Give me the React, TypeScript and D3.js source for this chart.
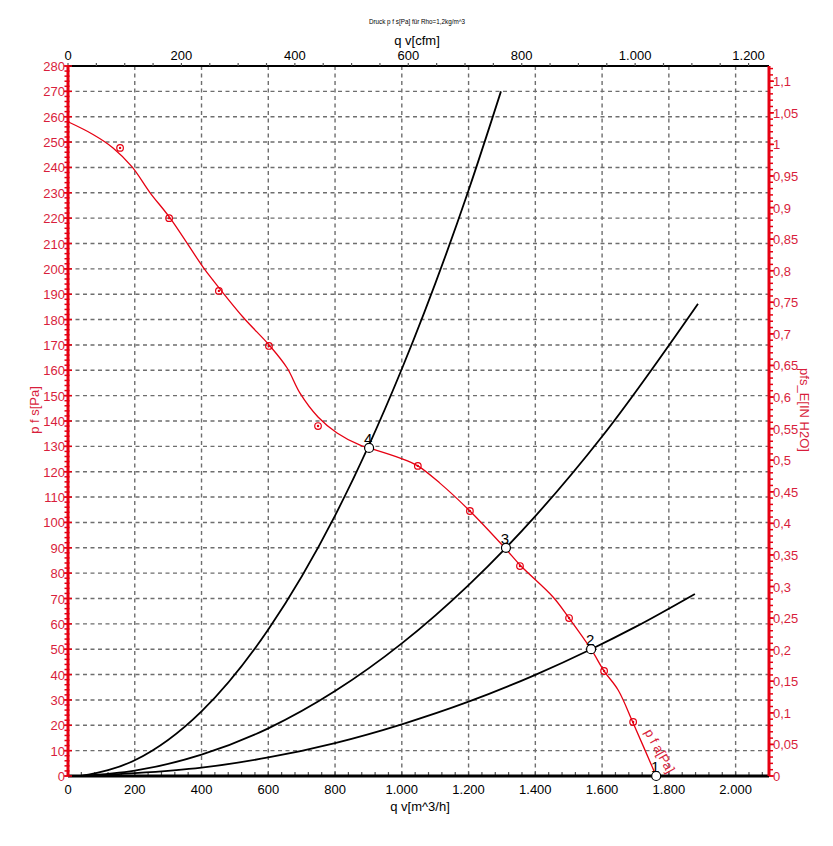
import React from "react";
import * as d3 from "d3";

// Kennlinie p fa [Pa] über qv [m^3/h]
const fanQ = [0, 75, 135, 192, 246, 306, 404, 434, 524, 605, 656, 695, 749, 806, 875, 902, 995, 1048, 1114, 1204, 1309, 1357, 1453, 1501, 1567, 1606, 1648, 1693, 1762];
const fanP = [258, 253, 247.7, 240.2, 230, 220, 200.8, 195.6, 181, 169.6, 161, 151, 141.6, 135.3, 130.5, 129.4, 125.4, 122.3, 115.5, 104.5, 89.9, 82.8, 70.6, 62.3, 50, 41.4, 33.9, 20.9, 0];

// Messpunkte (rote Kreise)
const markQ = [156, 303, 452, 602, 749, 1048, 1204, 1354, 1501, 1606, 1693];
const markP = [247.7, 220, 191.3, 169.6, 138, 122.3, 104.5, 82.8, 62.3, 41.4, 21.3];

// Anlagenkennlinien (schwarz)
const sys4Q = [40, 200, 400, 600, 800, 900, 1000, 1200, 1297];
const sys4P = [0, 6.2, 25.5, 57.8, 102.7, 130, 160.5, 231, 270];
const sys3Q = [40, 200, 400, 600, 800, 1000, 1200, 1312, 1400, 1600, 1887];
const sys3P = [0, 2.1, 8.4, 18.8, 33.5, 52.3, 75.3, 90, 102.5, 133.9, 186.2];
const sys2Q = [40, 200, 400, 600, 800, 1000, 1200, 1400, 1567, 1700, 1878];
const sys2P = [0, 1.1, 3.3, 7.3, 13, 20.4, 29.3, 39.9, 50, 58.8, 71.8];

// Betriebspunkte
const opLabels = ["1", "2", "3", "4"];
const opQ = [1762, 1567, 1312, 902];
const opP = [0, 50, 90, 129.4];

const PA_PER_INH2O = 249.089;
const M3H_TO_CFM = 0.58858;

const W = 833, H = 846;
const left = 68, right = 769, top = 66, bottom = 776;
const red = "#e60012";
const redText = "#d81e3c";
const font = "Liberation Sans, Arial, sans-serif";

const locale = d3.formatLocale({ decimal: ",", thousands: ".", grouping: [3], currency: ["", ""] });
const fmtInt = locale.format(",");
const fmtIn = locale.format(".2~f");

export default function App() {
  const x = d3.scaleLinear().domain([0, 2100]).range([left, right]);
  const y = d3.scaleLinear().domain([0, 280]).range([bottom, top]);
  const xTop = d3.scaleLinear().domain([0, 2100 * M3H_TO_CFM]).range([left, right]);
  const yRight = d3.scaleLinear().domain([0, 280 / PA_PER_INH2O]).range([bottom, top]);

  const line = d3.line<[number, number]>().x(d => x(d[0])).y(d => y(d[1])).curve(d3.curveMonotoneX);
  const smooth = d3.line<[number, number]>().x(d => x(d[0])).y(d => y(d[1])).curve(d3.curveCatmullRom.alpha(0.5));
  const zip = (a: number[], b: number[]) => a.map((v, i) => [v, b[i]] as [number, number]);

  const yGrid = d3.range(10, 280, 10);
  const xGrid = d3.range(200, 2100, 200);
  const yMinor = d3.range(0, 281, 2);
  const rMinor = d3.range(0, 1.125, 0.01);
  const rMajor = d3.range(0, 1.11, 0.05);
  const bMinor = d3.range(0, 2101, 40);
  const bMajor = d3.range(0, 2001, 200);
  const tMinor = d3.range(0, 1236, 50);
  const tMajor = d3.range(0, 1201, 200);

  return (
    <svg width={W} height={H} style={{ position: "absolute", left: 0, top: 0, background: "#fff" }} fontFamily={font}>
      <rect width={W} height={H} fill="#fff" />
      <text x={417} y={24} fontSize={6.3} textAnchor="middle" fill="#000">Druck p f s[Pa] für Rho=1,2kg/m^3</text>
      <text x={417} y={45} fontSize={13} textAnchor="middle" fill="#000">q v[cfm]</text>
      <text x={420} y={811} fontSize={13} textAnchor="middle" fill="#000">q v[m^3/h]</text>
      <text transform={`translate(39,410) rotate(-90)`} fontSize={13} textAnchor="middle" fill={redText}>p f s[Pa]</text>
      <text transform={`translate(800,410) rotate(90)`} fontSize={13} textAnchor="middle" fill={redText}>pfs_E[IN H2O]</text>

      {/* Gitter */}
      <g stroke="#6e6e6e" strokeWidth={1.4} strokeDasharray="4,3.5">
        {yGrid.map(v => <line key={"h" + v} x1={left} x2={right} y1={y(v)} y2={y(v)} />)}
        {xGrid.map(v => <line key={"v" + v} x1={x(v)} x2={x(v)} y1={top} y2={bottom} />)}
      </g>

      {/* obere Achse cfm */}
      <line x1={left} x2={right} y1={top} y2={top} stroke="#000" strokeWidth={2} />
      {tMinor.map(v => <line key={"tm" + v} x1={xTop(v)} x2={xTop(v)} y1={top - 3} y2={top} stroke="#555" strokeWidth={1.2} />)}
      {tMajor.map(v => (
        <text key={"tl" + v} x={xTop(v)} y={top - 6} fontSize={13} textAnchor="middle" fill="#000">{fmtInt(v)}</text>
      ))}

      {/* untere Achse m^3/h */}
      {bMinor.map(v => <line key={"bm" + v} x1={x(v)} x2={x(v)} y1={bottom - 4} y2={bottom} stroke="#555" strokeWidth={1.2} />)}
      <line x1={left} x2={right} y1={bottom} y2={bottom} stroke="#000" strokeWidth={3} />
      {bMajor.map(v => (
        <text key={"bl" + v} x={x(v)} y={794} fontSize={13} textAnchor="middle" fill="#000">{fmtInt(v)}</text>
      ))}

      {/* linke Achse Pa */}
      <line x1={left} x2={left} y1={top} y2={bottom} stroke={red} strokeWidth={3} />
      {yMinor.map(v => <line key={"lm" + v} x1={left - 3.5} x2={left + 1.5} y1={y(v)} y2={y(v)} stroke={red} strokeWidth={1.5} />)}
      {d3.range(0, 281, 10).map(v => (
        <g key={"ll" + v}>
          <line x1={left - 4} x2={left + 4} y1={y(v)} y2={y(v)} stroke={red} strokeWidth={1.5} />
          <text x={left - 3} y={y(v) + 5} fontSize={13} textAnchor="end" fill={redText}>{v}</text>
        </g>
      ))}

      {/* rechte Achse inH2O */}
      <line x1={right} x2={right} y1={top} y2={bottom} stroke={red} strokeWidth={3} />
      {rMinor.map(v => <line key={"rm" + v.toFixed(2)} x1={right} x2={right + 4} y1={yRight(v)} y2={yRight(v)} stroke={red} strokeWidth={1.5} />)}
      {rMajor.map(v => (
        <g key={"rl" + v.toFixed(2)}>
          <line x1={right} x2={right + 5} y1={yRight(v)} y2={yRight(v)} stroke={red} strokeWidth={1.5} />
          <text x={right + 4} y={yRight(v) + 5} fontSize={13} textAnchor="start" fill={redText}>{fmtIn(v)}</text>
        </g>
      ))}

      {/* Anlagenkennlinien */}
      <g fill="none" stroke="#000" strokeWidth={1.8}>
        <path d={line(zip(sys4Q, sys4P)) || ""} />
        <path d={line(zip(sys3Q, sys3P)) || ""} />
        <path d={line(zip(sys2Q, sys2P)) || ""} />
      </g>

      {/* Ventilatorkennlinie */}
      <path d={smooth(zip(fanQ, fanP)) || ""} fill="none" stroke={red} strokeWidth={1.3} />
      {markQ.map((q, i) => (
        <g key={"mk" + i}>
          <circle cx={x(q)} cy={y(markP[i])} r={3.3} fill="none" stroke={red} strokeWidth={1.2} />
          <circle cx={x(q)} cy={y(markP[i])} r={1.2} fill={red} />
        </g>
      ))}
      <text transform={`translate(${x(1708) + 6},${y(17) - 1}) rotate(61)`} fontSize={13} fill={redText}>p f a[Pa]</text>

      {/* Betriebspunkte */}
      {opQ.map((q, i) => (
        <g key={"op" + i}>
          <circle cx={x(q)} cy={y(opP[i])} r={4.5} fill="#fff" stroke="#000" strokeWidth={1.2} />
          <text x={x(q) - 1} y={y(opP[i]) - 4} fontSize={15} textAnchor="middle" fill="#000">{opLabels[i]}</text>
        </g>
      ))}
    </svg>
  );
}
